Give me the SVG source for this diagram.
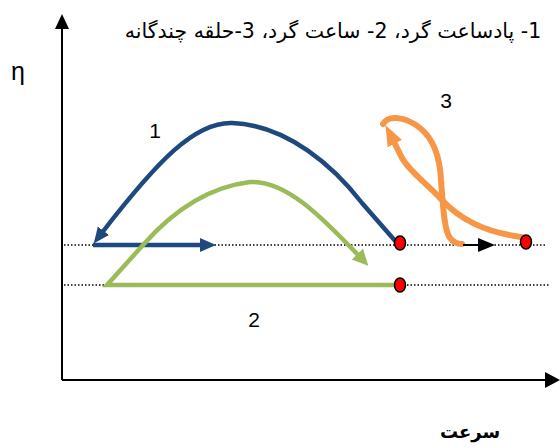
<svg xmlns="http://www.w3.org/2000/svg" width="560" height="446" viewBox="0 0 560 446">
<style>
.lbl{font-family:"Liberation Sans",Arial,sans-serif;font-size:21px;fill:#000}
.fa{font-family:"DejaVu Sans",sans-serif;fill:#000}
.dot{stroke:#000;stroke-width:1.5;stroke-dasharray:1.5 2;fill:none}
.axis{stroke:#000;stroke-width:2;fill:none}
.blue{stroke:#1F497D;stroke-width:4.5;fill:none}
.green{stroke:#9BBB59;stroke-width:4.5;fill:none;stroke-linejoin:miter}
.orange{stroke:#F79646;stroke-width:6;fill:none;stroke-linecap:round;stroke-linejoin:round}
.pt{fill:#FF0000;stroke:#000;stroke-width:1.5}
</style>
<defs>
<marker id="ab" markerUnits="userSpaceOnUse" markerWidth="18" markerHeight="16" refX="4" refY="7" orient="auto"><path d="M0,0 L16,7 L0,14 z" fill="#1F497D"/></marker>
<marker id="ag" markerUnits="userSpaceOnUse" markerWidth="20" markerHeight="18" refX="4" refY="8" orient="auto"><path d="M0,0 L16,8 L0,16 z" fill="#9BBB59"/></marker>
<marker id="ao" markerUnits="userSpaceOnUse" markerWidth="24" markerHeight="18" refX="3" refY="8" orient="auto"><path d="M0,0 L21,8 L0,16 z" fill="#F79646"/></marker>
<marker id="ak" markerUnits="userSpaceOnUse" markerWidth="18" markerHeight="16" refX="2" refY="7" orient="auto"><path d="M0,0 L17,7 L0,14 z" fill="#000"/></marker>
</defs>
<g id="axes">
<line class="axis" x1="62" y1="380" x2="62" y2="28"/>
<polygon points="62,14 55,29 69,29" fill="#000"/>
<line class="axis" x1="62" y1="380" x2="546" y2="380"/>
<polygon points="560,380 545,372 545,388" fill="#000"/>
</g>
<g id="gridlines">
<line class="dot" x1="64" y1="245" x2="545" y2="245"/>
<line class="dot" x1="64" y1="285" x2="550" y2="285"/>
</g>
<g id="connectors">
<path id="curve1" class="blue" d="M397,243 L362,203 C335,168 288,125 232,123 C195,122 158,160 101,234" marker-end="url(#ab)"/>
<path id="arrow1" class="blue" d="M93,245 L204,245" marker-end="url(#ab)"/>
<path id="curve2" class="green" d="M398,285 L107,285 L143,245 C165,220 200,188 250,182 C285,180 320,215 360,257" marker-end="url(#ag)"/>
<path id="curve3a" class="orange" d="M521,237 C485,232 460,220 440,198 C425,182 410,172 402,158 L393.5,141" marker-end="url(#ao)"/>
<path id="curve3b" class="orange" d="M383,124 C388,115 405,116 420,128 C435,140 440,160 441,180 C443,205 444,230 450,238 C453,242 458,244 462,244"/>
<path id="arrow3" d="M463,245 L480,245" stroke="#000" stroke-width="2" fill="none" marker-end="url(#ak)"/>
</g>
<g id="points">
<ellipse class="pt" cx="400" cy="243" rx="5.5" ry="7"/>
<ellipse class="pt" cx="400" cy="285" rx="5.5" ry="7"/>
<ellipse class="pt" cx="526" cy="242" rx="5.5" ry="7"/>
</g>
<g id="labels">
<text class="lbl" x="11" y="80" style="font-size:25px">η</text>
<text class="lbl" x="155" y="138" text-anchor="middle">1</text>
<text class="lbl" x="254" y="327" text-anchor="middle">2</text>
<text class="lbl" x="446" y="108" text-anchor="middle">3</text>
<text class="fa" x="333" y="38" font-size="20.5" text-anchor="middle" direction="rtl" unicode-bidi="embed">1- پادساعت گرد، 2- ساعت گرد، 3-حلقه چندگانه</text>
<text class="fa" x="470" y="438" font-size="18" font-weight="bold" text-anchor="middle" direction="rtl">سرعت</text>
</g>
</svg>
